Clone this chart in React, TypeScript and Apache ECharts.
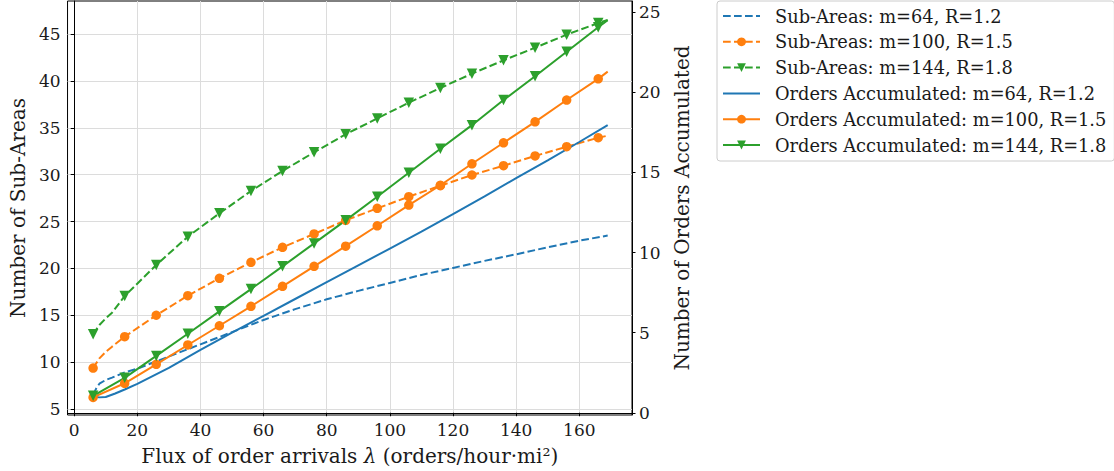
import React, { useEffect, useRef } from "react";
import * as echarts from "echarts";

// ---- data ----
const xTicks = [0, 20, 40, 60, 80, 100, 120, 140, 160];
const leftTicks = [5, 10, 15, 20, 25, 30, 35, 40, 45];
const rightTicks = [0, 5, 10, 15, 20, 25];
const markerX = [6, 16, 26, 36, 46, 56, 66, 76, 86, 96, 106, 116, 126, 136, 146, 156, 166];

// Sub-Areas (left axis)
const sub64X = [6, 7, 8, 10, 12, 16, 20, 30, 40, 50, 60, 70, 80, 90, 100, 110, 120, 130, 140, 150, 160, 169];
const sub64 = [6.5, 7.2, 7.7, 8.1, 8.35, 8.9, 9.3, 10.6, 11.9, 13.2, 14.5, 15.65, 16.7, 17.6, 18.45, 19.3, 20.05, 20.8, 21.5, 22.25, 22.95, 23.5];

const sub100X = [6, 8, 10, 12, 16, 26, 36, 46, 56, 66, 76, 86, 96, 106, 116, 126, 136, 146, 156, 166, 169];
const sub100 = [9.37, 10.4, 11.1, 11.65, 12.71, 15.0, 17.09, 18.94, 20.65, 22.25, 23.67, 25.13, 26.4, 27.65, 28.82, 29.96, 30.95, 31.99, 32.98, 33.94, 34.15];

const sub144X = [6, 8, 10, 12, 16, 26, 36, 46, 56, 66, 76, 86, 96, 106, 116, 126, 136, 146, 156, 166, 169];
const sub144 = [12.97, 13.96, 14.67, 15.27, 17.05, 20.36, 23.38, 25.87, 28.25, 30.39, 32.38, 34.3, 36.0, 37.67, 39.24, 40.77, 42.19, 43.54, 44.93, 46.17, 46.5];

// Orders accumulated (right axis)
const ord64X = [6, 8, 10, 13, 16, 20, 25, 30, 40, 50, 60, 70, 80, 90, 100, 110, 120, 130, 140, 150, 160, 169];
const ord64 = [1.0, 0.96, 0.98, 1.2, 1.45, 1.8, 2.3, 2.8, 3.92, 5.0, 6.05, 7.1, 8.15, 9.2, 10.25, 11.3, 12.4, 13.5, 14.65, 15.75, 16.9, 17.95];

const ord100X = [6, 16, 26, 36, 46, 56, 66, 76, 86, 96, 106, 116, 126, 136, 146, 156, 166, 169];
const ord100 = [0.96, 1.84, 3.02, 4.23, 5.43, 6.64, 7.89, 9.14, 10.4, 11.67, 12.96, 14.2, 15.54, 16.85, 18.16, 19.52, 20.84, 21.29];

const ord144X = [6, 16, 26, 36, 46, 56, 66, 76, 86, 96, 106, 116, 126, 136, 146, 156, 166, 169];
const ord144 = [1.06, 2.18, 3.55, 4.93, 6.33, 7.72, 9.14, 10.57, 12.01, 13.48, 14.98, 16.48, 17.95, 19.52, 21.0, 22.53, 24.06, 24.5];

const names = [
  "Sub-Areas: m=64, R=1.2",
  "Sub-Areas: m=100, R=1.5",
  "Sub-Areas: m=144, R=1.8",
  "Orders Accumulated: m=64, R=1.2",
  "Orders Accumulated: m=100, R=1.5",
  "Orders Accumulated: m=144, R=1.8",
];

const BLUE = "#1f77b4";
const ORANGE = "#ff7f0e";
const GREEN = "#2ca02c";
const FONT = "DejaVu Serif";
const TXT = "#1a1a1a";
const DASH = [7.7, 3.3];

function pts(xs: number[], ys: number[]) {
  return xs.map((x, i) => {
    const marked = markerX.indexOf(x) >= 0;
    return marked ? { value: [x, ys[i]] } : { value: [x, ys[i]], symbol: "none" };
  });
}

function mkSeries(name: string, xs: number[], ys: number[], color: string, dashed: boolean, yIdx: number, symbol: string) {
  return {
    name,
    type: "line",
    yAxisIndex: yIdx,
    data: symbol === "none" ? xs.map((x, i) => [x, ys[i]]) : pts(xs, ys),
    symbol,
    symbolSize: symbol === "triangle" ? 10.5 : 9.5,
    symbolRotate: symbol === "triangle" ? 180 : 0,
    showSymbol: symbol !== "none",
    color,
    itemStyle: { color, borderWidth: 0 },
    lineStyle: { color, width: 2, type: dashed ? DASH : "solid" },
    emphasis: { disabled: true },
  };
}

export default function App() {
  const ref = useRef<HTMLDivElement>(null);
  useEffect(() => {
    if (!ref.current) return;
    const chart = echarts.init(ref.current, undefined, { renderer: "svg" });
    const labelStyle = { color: TXT, fontFamily: FONT, fontSize: 17 };
    chart.setOption({
      animation: false,
      backgroundColor: "#fff",
      grid: { left: 64, right: 482, top: 1, bottom: 56, show: true, borderColor: "#000", borderWidth: 1, backgroundColor: "transparent" },
      legend: {
        orient: "vertical",
        left: 717,
        top: 1,
        padding: [5, 8, 6, 5],
        itemWidth: 37,
        itemHeight: 11,
        itemGap: 5.8,
        borderColor: "#cccccc",
        borderWidth: 1,
        borderRadius: 3,
        data: names.map((n, i) => (i === 0 || i === 3 ? { name: n, itemStyle: { opacity: 0 } } : { name: n })),
        textStyle: { color: TXT, fontFamily: FONT, fontSize: 17.8, lineHeight: 20, padding: [0, 0, 0, 10] },
      },
      xAxis: {
        type: "value",
        min: -2.1,
        max: 176.7,
        name: "Flux of order arrivals {it|λ} (orders/hour·mi²)",
        nameLocation: "middle",
        nameGap: 31,
        nameTextStyle: { color: TXT, fontFamily: FONT, fontSize: 20, rich: { it: { fontStyle: "italic", fontFamily: FONT, fontSize: 20, color: TXT } } },
        axisLine: { show: true, lineStyle: { color: "#000", width: 1 } },
        axisTick: { show: true, length: 3.5, customValues: xTicks, lineStyle: { color: "#000" } },
        axisLabel: { ...labelStyle, margin: 6, customValues: xTicks },
        splitLine: { show: true, lineStyle: { color: "#dcdcdc", width: 1 } },
      },
      yAxis: [
        {
          type: "value",
          position: "left",
          min: 4.36,
          max: 48.52,
          name: "Number of Sub-Areas",
          nameLocation: "middle",
          nameGap: 36,
          nameTextStyle: { color: TXT, fontFamily: FONT, fontSize: 20 },
          axisLine: { show: true, lineStyle: { color: "#000", width: 1 } },
          axisTick: { show: true, length: 3.5, customValues: leftTicks, lineStyle: { color: "#000" } },
          axisLabel: { ...labelStyle, margin: 7, customValues: leftTicks },
          splitLine: { show: true, lineStyle: { color: "#dcdcdc", width: 1 } },
        },
        {
          type: "value",
          position: "right",
          min: -0.14,
          max: 25.7,
          name: "Number of Orders Accumulated",
          nameLocation: "middle",
          nameGap: 34,
          nameRotate: 90,
          nameTextStyle: { color: TXT, fontFamily: FONT, fontSize: 20 },
          axisLine: { show: true, lineStyle: { color: "#000", width: 1 } },
          axisTick: { show: true, length: 3.5, customValues: rightTicks, lineStyle: { color: "#000" } },
          axisLabel: { ...labelStyle, margin: 7, customValues: rightTicks },
          splitLine: { show: false },
        },
      ],
      series: [
        mkSeries(names[0], sub64X, sub64, BLUE, true, 0, "none"),
        mkSeries(names[1], sub100X, sub100, ORANGE, true, 0, "circle"),
        mkSeries(names[2], sub144X, sub144, GREEN, true, 0, "triangle"),
        mkSeries(names[3], ord64X, ord64, BLUE, false, 1, "none"),
        mkSeries(names[4], ord100X, ord100, ORANGE, false, 1, "circle"),
        mkSeries(names[5], ord144X, ord144, GREEN, false, 1, "triangle"),
      ],
    });
    return () => chart.dispose();
  }, []);
  return <div ref={ref} style={{ position: "absolute", left: 0, top: 0, width: 1114, height: 471 }} />;
}
